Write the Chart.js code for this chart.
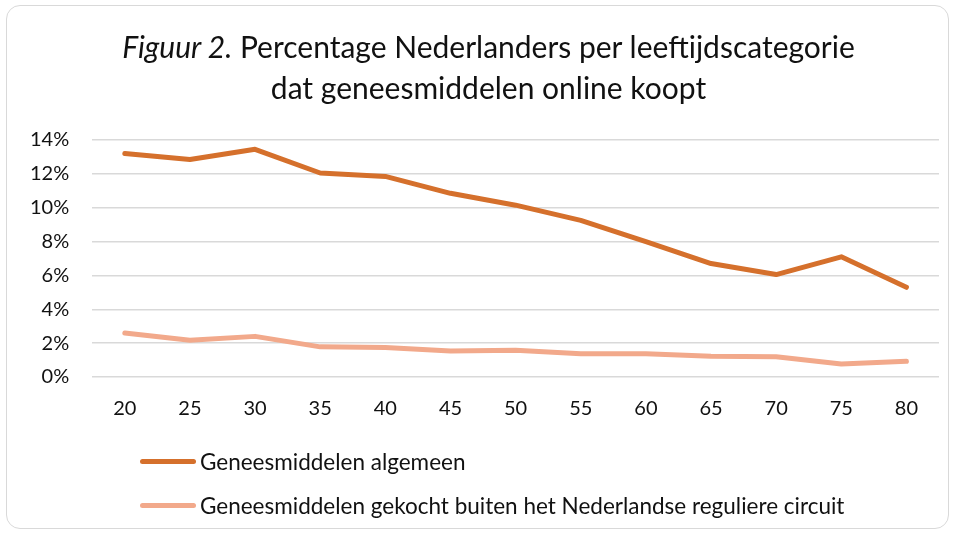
<!DOCTYPE html>
<html>
<head>
<meta charset="utf-8">
<script src="https://cdn.jsdelivr.net/npm/chart.js@4"></script>
<style>
  body { margin: 0; background: #fff; font-family: Lato, "Open Sans", sans-serif; }
  #wrap { position: relative; width: 957px; height: 535px; }
  #frame { position: absolute; left: 6px; top: 5px; width: 943px; height: 524px; border: 1.5px solid #d9d9d9; border-radius: 14px; box-sizing: border-box; }
  #title { position: absolute; left: 0; top: 26px; width: 977px; text-align: center; font-size: 30px; line-height: 41px; color: #111; }
  #chart { position: absolute; left: 0; top: 0; }
  #legend { position: absolute; left: 140px; top: 439px; font-size: 22.5px; color: #111; }
  .item { height: 44px; display: flex; align-items: center; }
  .swatch { width: 56px; height: 5px; border-radius: 3px; margin-right: 4px; }
</style>
</head>
<body>
<div id="wrap">
  <div id="frame"></div>
  <canvas id="chart" width="957" height="535"></canvas>
  <div id="title"><i>Figuur 2.</i> Percentage Nederlanders per leeftijdscategorie<br>dat geneesmiddelen online koopt</div>
  <div id="legend"></div>
</div>
<script>
const ages = ["20","25","30","35","40","45","50","55","60","65","70","75","80"];
const algemeen = [13.2,12.85,13.45,12.05,11.85,10.85,10.15,9.25,8.0,6.7,6.05,7.1,5.3];
const buiten = [2.6,2.17,2.4,1.78,1.74,1.54,1.58,1.38,1.38,1.22,1.2,0.77,0.93];
const seriesNames = ["Geneesmiddelen algemeen","Geneesmiddelen gekocht buiten het Nederlandse reguliere circuit"];
const seriesColors = ["#d5702c","#f2a98b"];
const yTicks = [0,2,4,6,8,10,12,14];

const datasets=[algemeen,buiten].map(function(vals,i){
    return {
        label: seriesNames[i],
        data: vals,
        borderColor: seriesColors[i],
        backgroundColor: seriesColors[i],
        borderWidth: 5,
        pointRadius: 0,
        tension: 0,
        borderCapStyle: 'round',
        borderJoinStyle: 'round'
    };
});

const font={family:"Lato, 'Open Sans', sans-serif", size:20};
new Chart("chart", {
    type: "line",
    data: { labels: ages, datasets: datasets },
    options: {
        responsive: false,
        animation: false,
        layout: { padding: { top: 140, bottom: 102, left: 7, right: 18 } },
        plugins: { legend: { display: false }, tooltip: { enabled: false } },
        scales: {
            x: {
                offset: true,
                grid: { display: false },
                border: { display: false },
                ticks: { color: "#111", font: font, padding: 12 }
            },
            y: {
                min: 0, max: 14,
                afterBuildTicks: function(axis){ axis.ticks = yTicks.map(function(v){ return {value:v}; }); },
                grid: { color: "#d9d9d9", lineWidth: 1.5, drawTicks: false },
                border: { display: false },
                ticks: { color: "#111", font: font, padding: 23, callback: function(v){ return v + "%"; } }
            }
        }
    }
});

// legend
const leg=document.querySelector('#legend');
seriesNames.forEach(function(name,i){
    const row=document.createElement('div');
    row.className='item';
    row.innerHTML='<span class="swatch" style="background:'+seriesColors[i]+'"></span>'+name;
    leg.appendChild(row);
});
</script>
</body>
</html>
